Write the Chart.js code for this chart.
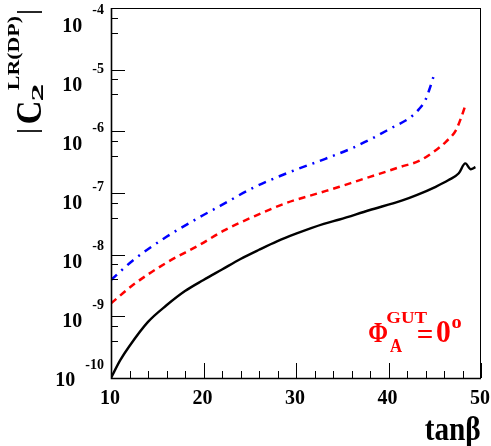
<!DOCTYPE html>
<html>
<head>
<meta charset="utf-8">
<script src="https://cdn.jsdelivr.net/npm/chart.js@4/dist/chart.umd.min.js"></script>
<style>
  body { margin: 0; background: #fff; }
  #wrap { position: relative; width: 491px; height: 446px; }
</style>
</head>
<body>
<div id="wrap"><canvas id="chart"></canvas></div>
<script>
// tanβ values and |C2| (log y axis)
const solidX = [10, 11, 12, 14, 16, 18, 20, 22, 24, 26, 28, 30, 33, 34.7, 37.9, 41.5, 43.1, 45.1, 46.5, 47.6, 48.3, 48.9, 49.4];
const solidY = [1.0e-10, 1.95e-10, 3.31e-10, 8.13e-10, 1.51e-9, 2.57e-9, 3.89e-9, 5.75e-9, 8.51e-9, 1.20e-8, 1.66e-8,
                2.19e-8, 3.16e-8, 3.72e-8, 5.25e-8, 7.59e-8, 9.33e-8, 1.26e-7, 1.62e-7, 2.09e-7, 3.02e-7, 2.43e-7, 2.63e-7];

const dashX = [10, 12.4, 16, 19.6, 22.3, 25.3, 29, 32.5, 34.7, 36.9, 39, 41.2, 43.3, 44.9, 46.2, 47.3, 47.9, 48.35];
const dashY = [1.62e-9, 3.24e-9, 7.41e-9, 1.45e-8, 2.51e-8, 4.07e-8, 6.92e-8, 1.0e-7, 1.26e-7, 1.62e-7, 2.04e-7,
               2.63e-7, 3.31e-7, 4.68e-7, 6.76e-7, 1.05e-6, 1.74e-6, 2.75e-6];

const dashDotX = [10, 12.4, 16, 19.6, 21.8, 25.3, 29, 33.1, 36.1, 38.3, 40.4, 42.2, 43.3, 44, 44.4, 44.85];
const dashDotY = [3.89e-9, 8.13e-9, 1.95e-8, 4.07e-8, 6.17e-8, 1.20e-7, 2.09e-7, 3.55e-7, 5.37e-7, 7.76e-7, 1.15e-6,
                  1.62e-6, 2.29e-6, 3.24e-6, 4.68e-6, 7.59e-6];

// axis ticks
const yExponents = [-10, -9, -8, -7, -6, -5, -4];
const yMinorFactors = [2, 3, 4, 5, 6, 7, 8, 9];
const xMajorTicks = [10, 20, 30, 40, 50];
const xMinorStep = 2;

const FONT = '"Liberation Serif", "Times New Roman", serif';

function toPoints(xs, ys) {
    return xs.map((x, i) => ({ x: x, y: ys[i] }));
}

// draws text stretched so its ink box fills (x1,y1)-(x2,y2)
function drawInBox(ctx, text, x1, y1, x2, y2) {
    ctx.font = 'bold 100px ' + FONT;
    ctx.textAlign = 'left';
    ctx.textBaseline = 'alphabetic';
    const m = ctx.measureText(text);
    const bw = m.actualBoundingBoxLeft + m.actualBoundingBoxRight;
    const bh = m.actualBoundingBoxAscent + m.actualBoundingBoxDescent;
    ctx.save();
    ctx.translate(x1, y1);
    ctx.scale((x2 - x1) / bw, (y2 - y1) / bh);
    ctx.fillText(text, m.actualBoundingBoxLeft, m.actualBoundingBoxAscent);
    ctx.restore();
}

// same, but for the rotated y title; boxes given in screen coords
function drawInBoxRot(ctx, text, sx1, sy1, sx2, sy2) {
    const H0 = 140;
    ctx.save();
    ctx.translate(0, H0);
    ctx.rotate(-Math.PI / 2);
    drawInBox(ctx, text, H0 - sy2, sx1, H0 - sy1, sx2);
    ctx.restore();
}

const framePlugin = {
    id: 'frame',
    afterDraw(chart) {
        const ctx = chart.ctx;
        const a = chart.chartArea;
        const xs = chart.scales.x;
        const ys = chart.scales.y;
        ctx.save();

        // frame
        ctx.strokeStyle = '#000';
        ctx.lineWidth = 1;
        ctx.strokeRect(a.left + 0.5, a.top + 0.5, a.right - a.left - 1, a.bottom - a.top);
        ctx.lineWidth = 1.6;
        ctx.beginPath();
        ctx.moveTo(a.left + 0.5, a.top);
        ctx.lineTo(a.left + 0.5, a.bottom + 0.5);
        ctx.lineTo(a.right, a.bottom + 0.5);
        ctx.stroke();

        // y ticks (inside, on the left)
        ctx.lineWidth = 1;
        ys.ticks.forEach(t => {
            const py = Math.round(ys.getPixelForValue(t.value)) + 0.5;
            const len = t.major ? 14 : 7;
            ctx.beginPath();
            ctx.moveTo(a.left, py);
            ctx.lineTo(a.left + len, py);
            ctx.stroke();
        });

        // x ticks (inside, at the bottom)
        for (let v = xs.min; v <= xs.max + 1e-9; v += xMinorStep) {
            const px = Math.round(xs.getPixelForValue(v)) + 0.5;
            const len = xMajorTicks.includes(v) ? 15 : 7;
            ctx.beginPath();
            ctx.moveTo(px, a.bottom);
            ctx.lineTo(px, a.bottom - len);
            ctx.stroke();
        }

        // x tick labels
        ctx.fillStyle = '#000';
        ctx.font = 'bold 20px ' + FONT;
        ctx.textAlign = 'center';
        ctx.textBaseline = 'alphabetic';
        xMajorTicks.forEach(v => {
            ctx.fillText(String(v), xs.getPixelForValue(v) - 1, 403.5);
        });

        // y tick labels: 10 with exponent
        yExponents.forEach(e => {
            const py = ys.getPixelForValue(Math.pow(10, e));
            const base = py + 8 + 0.0432 * (a.bottom - py);
            const expText = String(e);
            ctx.font = 'bold 14px ' + FONT;
            ctx.textAlign = 'right';
            ctx.fillText(expText, 104, base - 17.5);
            const expLeft = 104 - ctx.measureText(expText).width;
            ctx.font = 'bold 20px ' + FONT;
            ctx.fillText('10', expLeft - 10, base);
        });

        // axis titles
        drawInBox(ctx, 'tanβ', 425, 417, 480, 447);

        drawInBoxRot(ctx, '|', 18, 11, 42, 13);
        drawInBoxRot(ctx, 'LR(DP)', 8, 17, 23, 90);
        drawInBoxRot(ctx, '2', 32, 85, 43, 100);
        drawInBoxRot(ctx, 'C', 18, 103, 42, 123);
        drawInBoxRot(ctx, '|', 18, 130, 42, 132);

        // phase annotation
        ctx.fillStyle = '#ff0000';
        drawInBox(ctx, 'Φ', 369, 323, 387, 342);
        drawInBox(ctx, 'A', 390, 340, 402, 352);
        drawInBox(ctx, 'GUT', 387, 311, 427, 323);
        drawInBox(ctx, '=', 418, 330, 432, 338);
        drawInBox(ctx, '0', 437, 322, 450, 343);
        drawInBox(ctx, 'o', 452, 319, 461, 328);

        ctx.restore();
    }
};

new Chart(document.getElementById('chart'), {
    type: 'line',
    data: {
        datasets: [
            {
                label: 'solid',
                data: toPoints(solidX, solidY),
                borderColor: '#000000',
                borderWidth: 2.4,
                pointRadius: 0,
                cubicInterpolationMode: 'monotone'
            },
            {
                label: 'dashed',
                data: toPoints(dashX, dashY),
                borderColor: '#ff0000',
                borderWidth: 2.5,
                borderDash: [7, 5],
                pointRadius: 0,
                cubicInterpolationMode: 'monotone'
            },
            {
                label: 'dash-dot',
                data: toPoints(dashDotX, dashDotY),
                borderColor: '#0000ff',
                borderWidth: 2.5,
                borderDash: [8, 6, 2, 6],
                pointRadius: 0,
                cubicInterpolationMode: 'monotone'
            }
        ]
    },
    options: {
        responsive: true,
        maintainAspectRatio: false,
        animation: false,
        layout: {
            padding: { left: 111, right: 10, top: 8, bottom: 68 }
        },
        plugins: {
            legend: { display: false },
            tooltip: { enabled: false }
        },
        scales: {
            x: {
                type: 'linear',
                display: false,
                min: 10,
                max: 50
            },
            y: {
                type: 'logarithmic',
                display: false,
                min: 1e-10,
                max: 1e-4,
                afterBuildTicks: function(scale) {
                    const ticks = [];
                    yExponents.forEach(e => {
                        ticks.push({ value: Math.pow(10, e), major: true });
                        if (e < -4) {
                            yMinorFactors.forEach(f => ticks.push({ value: f * Math.pow(10, e), major: false }));
                        }
                    });
                    scale.ticks = ticks;
                }
            }
        }
    },
    plugins: [framePlugin]
});
</script>
</body>
</html>
